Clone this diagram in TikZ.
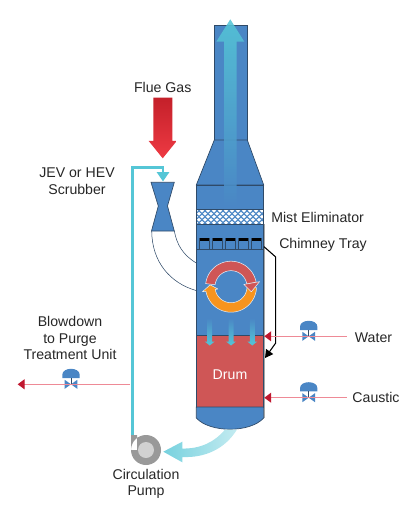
\documentclass[tikz,border=0pt]{standalone}
\usepackage{fontspec}
\setmainfont{Liberation Sans}
\usetikzlibrary{arrows.meta}
\definecolor{towerblue}{HTML}{4A86C5}
\definecolor{towerline}{HTML}{2F4A68}
\definecolor{drumred}{HTML}{CF5656}
\definecolor{ringorange}{HTML}{F7941E}
\definecolor{pipecyan}{HTML}{55C6D6}
\definecolor{feedpink}{HTML}{EE8A96}
\definecolor{feedred}{HTML}{C0182F}
\definecolor{fluetop}{HTML}{C4202A}
\definecolor{fluelow}{HTML}{EE3A43}
\tikzset{
  vessel/.style={fill=towerblue, draw=towerline, line width=0.5pt},
  ringband/.style={draw=white!85!towerblue, line width=0.4pt, line join=round},
  feedline/.style={draw=feedpink, line width=0.9pt, -{Triangle[length=5.2pt, width=7.5pt, color=feedred]}},
  lbl/.style={inner sep=0pt, font=\fontsize{10.6}{12.4}\selectfont, text=black!85, align=center}
}
\begin{document}
\begin{tikzpicture}[x=0.75pt, y=-0.75pt]
  \useasboundingbox (0,0) rectangle (400,520);

  % tower
  \draw[vessel] (214.3,25.7) rectangle (247.3,140);
  \draw[vessel] (214.3,140) -- (247.3,140) -- (263.7,185) -- (196.3,185) -- cycle;
  \draw[vessel] (196.3,185) rectangle (263.7,209);
  \draw[vessel] (196.3,224) rectangle (263.7,249.3);
  \draw[vessel] (196.3,249.3) rectangle (263.7,335);
  \draw[fill=drumred, draw=towerline, line width=0.5pt] (196.3,335) rectangle (263.7,407);
  \draw[vessel] (196.3,407) -- (263.7,407) -- (263.7,418)
    .. controls (250,433) and (210,433) .. (196.3,418) -- cycle;
  \draw[black!35, line width=0.8pt] (264.2,224) -- (264.2,418);

  % mist eliminator
  \begin{scope}
    \clip (196.3,209) rectangle (263.7,224);
    \fill[white] (196.3,209) rectangle (263.7,224);
    \foreach \row/\shift in {208/0,211/3,214/0,217/3,220/0,223/3}
      \foreach \col in {190,196,...,262}
        \draw[towerblue, line width=0.9pt] (\col+\shift,\row) -- (\col+\shift+3,\row+2.5) -- (\col+\shift+6,\row);
  \end{scope}
  \draw[towerline, line width=0.5pt] (196.3,209) rectangle (263.7,224);

  % chimney tray
  \foreach \cx in {199.3,212.3,225,238.3,251} {
    \fill[black] (\cx,238) rectangle (\cx+10,241);
    \draw[towerline, line width=0.4pt] (\cx,238) -- (\cx,249.3) (\cx+10,238) -- (\cx+10,249.3);
  }

  % big gas arrow in the stack
  \shade[top color=pipecyan, bottom color=towerblue, opacity=0.88]
    (230.3,19.3) -- (244.3,41.7) -- (236.6,41.7) -- (236.6,209) -- (224,209)
    -- (224,41.7) -- (216.3,41.7) -- cycle;

  % spray arrows
  \foreach \sx in {209.7,231,252.3}
    \shade[top color=towerblue, bottom color=pipecyan]
      (\sx-2.5,318) -- (\sx+2.5,318) -- (\sx+2.5,341.5) -- (\sx+5,341.5)
      -- (\sx,345.5) -- (\sx-5,341.5) -- (\sx-2.5,341.5) -- cycle;

  % ring of arrows
  \filldraw[ringband, fill=drumred]
    plot[domain=187:350, samples=40] ({231+25.5*cos(\x)},{286.7+25.5*sin(\x)})
    -- plot[domain=350:187, samples=40] ({231+16*cos(\x)},{286.7+16*sin(\x)}) -- cycle;
  \filldraw[ringband, fill=ringorange]
    plot[domain=2:170, samples=40] ({231+25.5*cos(\x)},{286.7+25.5*sin(\x)})
    -- ({231+29*cos(170)},{286.7+29*sin(170)}) -- ({231+21*cos(185)},{286.7+21*sin(185)})
    -- ({231+13.3*cos(170)},{286.7+13.3*sin(170)})
    -- plot[domain=170:2, samples=40] ({231+16*cos(\x)},{286.7+16*sin(\x)}) -- cycle;
  \filldraw[ringband, fill=drumred]
    ({231+13*cos(-10)},{286.7+13*sin(-10)}) -- ({231+21*cos(14)},{286.7+21*sin(14)})
    -- ({231+29*cos(-10)},{286.7+29*sin(-10)}) -- cycle;

  % flue gas arrow
  \shade[top color=fluetop, bottom color=fluelow]
    (153.3,97.7) -- (172.3,97.7) -- (172.3,141) -- (176.7,141) -- (162.7,158.3)
    -- (148.7,141) -- (153.3,141) -- cycle;

  % venturi and duct
  \draw[vessel] (151,182.3) -- (158.3,206) -- (151.5,231) -- (174.3,231) -- (167.5,206) -- (174.3,182.3) -- cycle;
  \draw[towerline, line width=0.4pt] (151.7,231) .. controls (152,262) and (170,283) .. (196.3,290.6);
  \draw[towerline, line width=0.4pt] (174.3,231) .. controls (177,245) and (183,255) .. (196.3,263);

  % pump and recycle
  \fill[black!40] (131,435) rectangle (137,450) (146,450) circle (15);
  \fill[black!18] (146,450) circle (8);
  \coordinate (pumpout) at (132.5,435);
  \coordinate (pipetop) at (132.5,167.5);
  \coordinate (venturiin) at (163,181.5);
  \draw[pipecyan, line width=1.9pt, -{Triangle[length=7pt, width=9pt]}]
    (pumpout) -- (pipetop) -| (venturiin);
  \shade[left color=pipecyan!80!white, right color=pipecyan!35!white]
    (163.3,451.7) -- (182.3,441.7) -- (182.3,448.5) .. controls (200,449) and (215,442) .. (225,429.5)
    -- (237,429.5) .. controls (225,449) and (205,458) .. (182.3,457) -- (182.3,462.3) -- cycle;

  % chimney bypass
  \coordinate (traydraw) at (264,246.7);
  \coordinate (bendtop) at (275.7,257);
  \coordinate (bendlow) at (275.7,343);
  \coordinate (drumin) at (265,358);
  \draw[black, line width=0.8pt, -{Triangle[length=6pt, width=6.5pt]}]
    (traydraw) -- (bendtop) -- (bendlow) -- (drumin);

  % valves
  \foreach \vx/\vy in {308.7/336.3,308.7/397.7,71/384.3} {
    \fill[towerblue] (\vx-8.7,\vy-6.3) -- (\vx-8.7,\vy-9.5) .. controls (\vx-8.7,\vy-17.5) and (\vx+8.7,\vy-17.5) .. (\vx+8.7,\vy-9.5) -- (\vx+8.7,\vy-6.3) -- cycle;
    \draw[towerline, line width=0.7pt] (\vx,\vy-6.3) -- (\vx,\vy);
    \fill[towerblue] (\vx-6.3,\vy-4.5) -- (\vx+6.3,\vy+4.5) -- (\vx+6.3,\vy-4.5) -- (\vx-6.3,\vy+4.5) -- cycle;
  }

  % labels
  \node[lbl] (fluegas) at (162.7,87) {Flue Gas};
  \node[lbl] (scrubber) at (77,181) {JEV or HEV\\Scrubber};
  \node[lbl, anchor=west] (misteliminator) at (271,217) {Mist Eliminator};
  \node[lbl, anchor=west] (chimneytray) at (279,244.5) {Chimney Tray};
  \node[lbl, text=white] (drum) at (230,374.5) {Drum};
  \node[lbl] (water) at (373.5,338) {Water};
  \node[lbl] (caustic) at (376,397.5) {Caustic};
  \node[lbl] (blowdown) at (70,338.3) {Blowdown\\to Purge\\Treatment Unit};
  \node[lbl] (pump) at (146,484) {Circulation\\Pump};

  % feeds
  \coordinate (waterend) at (346.7,336.3);
  \coordinate (waterin) at (264.3,336.3);
  \coordinate (causticend) at (346.7,397.7);
  \coordinate (causticin) at (264.3,397.7);
  \coordinate (bleedstart) at (130,384.3);
  \coordinate (bleedend) at (17.7,384.3);
  \draw[feedline] (waterend) -- (waterin);
  \draw[feedline] (causticend) -- (causticin);
  \draw[feedline] (bleedstart) -- (bleedend);
\end{tikzpicture}
\end{document}
